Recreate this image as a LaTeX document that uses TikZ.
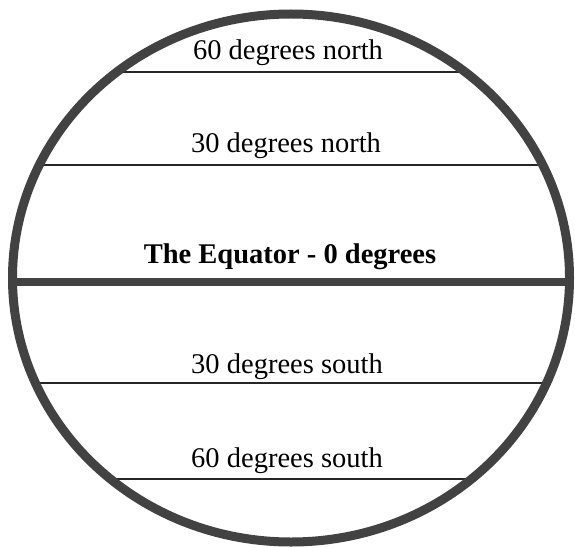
\documentclass[tikz,border=0pt]{standalone}
\usepackage{fontspec}
\setmainfont{Liberation Serif}
\begin{document}
\begin{tikzpicture}[x=1pt,y=-1pt,
  lbl/.style={anchor=base,inner sep=0pt,font=\fontsize{28.5}{30}\selectfont},
  thinline/.style={draw=black!85,line width=1.8pt},
  thickline/.style={draw=black!74,line width=8pt},
  rim/.style={draw=black!74,line width=9pt}]
\useasboundingbox (0,0) rectangle (575,548);
\begin{scope}
\clip (291,278) ellipse [x radius=278.5, y radius=264];
\draw[thinline] (0,72) -- (575,72);
\draw[thinline] (0,165) -- (575,165);
\draw[thickline] (0,282) -- (575,282);
\draw[thinline] (0,383) -- (575,383);
\draw[thinline] (0,479) -- (575,479);
\end{scope}
\draw[rim] (291,278) ellipse [x radius=278.5, y radius=264];
\node[lbl] (n60) at (288,60) {60 degrees north};
\node[lbl] (n30) at (286,153) {30 degrees north};
\node[lbl] (eq) at (290,263) {\textbf{The Equator - 0 degrees}};
\node[lbl] (s30) at (287,373) {30 degrees south};
\node[lbl] (s60) at (287,467) {60 degrees south};
\end{tikzpicture}
\end{document}
